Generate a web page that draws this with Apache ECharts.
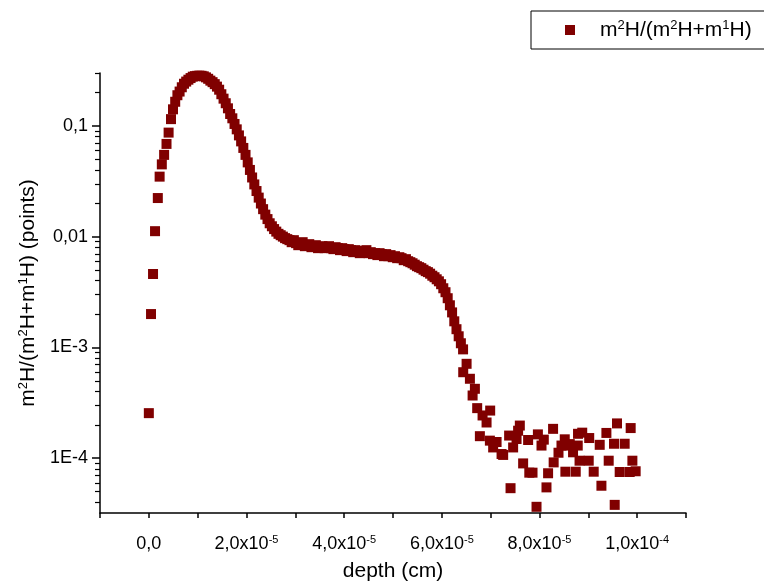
<!DOCTYPE html>
<html><head><meta charset="utf-8">
<script src="https://cdn.jsdelivr.net/npm/echarts@6/dist/echarts.min.js"></script>
<style>html,body{margin:0;padding:0;background:#fff}#c{width:764px;height:583px}</style>
</head><body><div id="c"></div>
<script>
// depth (cm) and ratio m2H/(m2H+m1H)
const depthPeak = [0, 0.045e-5, 0.086e-5, 0.127e-5, 0.184e-5, 0.221e-5, 0.266e-5, 0.313e-5, 0.362e-5, 0.405e-5, 0.454e-5, 0.495e-5,
  0.54e-5, 0.585e-5, 0.63e-5, 0.675e-5, 0.72e-5, 0.765e-5, 0.81e-5, 0.855e-5, 0.90e-5, 0.945e-5,
  0.99e-5, 1.035e-5, 1.08e-5, 1.125e-5, 1.17e-5, 1.215e-5, 1.26e-5, 1.305e-5, 1.35e-5, 1.395e-5,
  1.44e-5, 1.485e-5, 1.53e-5, 1.575e-5, 1.62e-5, 1.665e-5, 1.71e-5, 1.755e-5, 1.80e-5, 1.845e-5,
  1.89e-5, 1.935e-5, 1.98e-5, 2.025e-5, 2.07e-5, 2.115e-5, 2.16e-5, 2.205e-5, 2.25e-5, 2.295e-5,
  2.34e-5, 2.385e-5, 2.43e-5, 2.475e-5, 2.52e-5, 2.565e-5, 2.61e-5, 2.655e-5, 2.70e-5, 2.745e-5,
  2.79e-5, 2.835e-5];
const ratioPeak = [2.55e-4, 2.0e-3, 4.6e-3, 0.0112, 0.0223, 0.0348, 0.0449, 0.0547, 0.0687, 0.0869, 0.115, 0.141,
  0.165, 0.189, 0.204, 0.223, 0.240, 0.251, 0.261, 0.270, 0.278, 0.281,
  0.283, 0.284, 0.283, 0.280, 0.274, 0.266, 0.256, 0.248, 0.238, 0.226,
  0.212, 0.193, 0.176, 0.160, 0.144, 0.128, 0.117, 0.104, 0.0930, 0.0820,
  0.0724, 0.0632, 0.0547, 0.0468, 0.0400, 0.0342, 0.0296, 0.0258, 0.0225, 0.0199,
  0.0177, 0.0158, 0.0144, 0.0132, 0.0124, 0.0117, 0.0111, 0.0106, 0.0103, 0.0100,
  0.00969, 0.00949];
const depthPlateau = [2.88e-5, 2.925e-5, 2.97e-5, 3.015e-5, 3.06e-5, 3.105e-5, 3.15e-5, 3.195e-5, 3.24e-5, 3.285e-5,
  3.33e-5, 3.375e-5, 3.42e-5, 3.465e-5, 3.51e-5, 3.555e-5, 3.60e-5, 3.645e-5, 3.69e-5, 3.735e-5,
  3.78e-5, 3.825e-5, 3.87e-5, 3.915e-5, 3.96e-5, 4.005e-5, 4.05e-5, 4.095e-5, 4.14e-5, 4.185e-5,
  4.23e-5, 4.275e-5, 4.32e-5, 4.365e-5, 4.41e-5, 4.455e-5, 4.50e-5, 4.545e-5, 4.59e-5, 4.635e-5,
  4.68e-5, 4.725e-5, 4.77e-5, 4.815e-5, 4.86e-5, 4.905e-5, 4.95e-5, 4.995e-5, 5.04e-5, 5.085e-5,
  5.13e-5, 5.175e-5, 5.22e-5, 5.265e-5, 5.31e-5, 5.355e-5, 5.40e-5, 5.445e-5, 5.49e-5, 5.535e-5,
  5.58e-5, 5.625e-5, 5.67e-5, 5.715e-5, 5.76e-5, 5.805e-5, 5.85e-5, 5.895e-5, 5.94e-5, 5.985e-5,
  6.03e-5, 6.075e-5, 6.12e-5, 6.165e-5, 6.21e-5, 6.255e-5, 6.30e-5, 6.345e-5, 6.39e-5, 6.435e-5];
const ratioPlateau = [0.00929, 0.00891, 0.00929, 0.00873, 0.00837, 0.00855, 0.00891, 0.00820, 0.00837, 0.00855,
  0.00803, 0.00820, 0.00837, 0.00787, 0.00803, 0.00820, 0.00787, 0.00803, 0.00820, 0.00787,
  0.00771, 0.00803, 0.00787, 0.00755, 0.00787, 0.00771, 0.00740, 0.00771, 0.00755, 0.00724,
  0.00755, 0.00740, 0.00709, 0.00740, 0.00724, 0.00755, 0.00709, 0.00724, 0.00695, 0.00709,
  0.00681, 0.00709, 0.00695, 0.00666, 0.00695, 0.00666, 0.00681, 0.00652, 0.00666, 0.00639,
  0.00652, 0.00639, 0.00613, 0.00626, 0.00600, 0.00588, 0.00575, 0.00558, 0.00541, 0.00530,
  0.00519, 0.00503, 0.00488, 0.00478, 0.00463, 0.00444, 0.00430, 0.00412, 0.00395, 0.00372,
  0.00342, 0.00315, 0.00278, 0.00240, 0.00207, 0.00172, 0.00146, 0.00126, 0.00109, 0.00096];
const depthTail = [6.438e-5, 6.507e-5, 6.575e-5, 6.630e-5, 6.677e-5, 6.724e-5, 6.779e-5, 6.834e-5, 6.916e-5, 6.984e-5,
  6.990e-5, 7.051e-5, 7.121e-5, 7.223e-5, 7.256e-5, 7.378e-5, 7.407e-5, 7.460e-5, 7.530e-5, 7.562e-5,
  7.597e-5, 7.665e-5, 7.767e-5, 7.791e-5, 7.857e-5, 7.939e-5, 7.967e-5, 8.041e-5, 8.088e-5, 8.143e-5,
  8.176e-5, 8.278e-5, 8.290e-5, 8.389e-5, 8.450e-5, 8.517e-5, 8.530e-5, 8.585e-5, 8.620e-5, 8.687e-5,
  8.742e-5, 8.783e-5, 8.789e-5, 8.820e-5, 8.875e-5, 9.008e-5, 9.018e-5, 9.110e-5, 9.233e-5, 9.268e-5,
  9.370e-5, 9.417e-5, 9.526e-5, 9.540e-5, 9.587e-5, 9.642e-5, 9.744e-5, 9.847e-5, 9.867e-5, 9.902e-5,
  9.969e-5];
const ratioTail = [5.97e-4, 7.11e-4, 5.21e-4, 3.68e-4, 4.23e-4, 2.83e-4, 1.58e-4, 2.43e-4, 2.10e-4, 1.44e-4,
  2.69e-4, 1.25e-4, 1.40e-4, 1.09e-4, 1.07e-4, 1.60e-4, 5.36e-5, 1.25e-4, 1.49e-4, 1.77e-4,
  1.97e-4, 8.97e-5, 1.46e-4, 7.40e-5, 7.40e-5, 3.64e-5, 1.64e-4, 1.30e-4, 1.47e-4, 5.45e-5,
  7.31e-5, 1.84e-4, 9.16e-5, 1.12e-4, 1.30e-4, 1.48e-4, 7.55e-5, 1.30e-4, 1.34e-4, 1.13e-4,
  7.55e-5, 1.30e-4, 1.66e-4, 9.49e-5, 1.70e-4, 9.49e-5, 1.52e-4, 7.55e-5, 1.32e-4, 5.64e-5,
  1.69e-4, 9.49e-5, 1.35e-4, 3.79e-5, 2.06e-4, 7.50e-5, 1.35e-4, 7.50e-5, 1.87e-4, 9.49e-5,
  7.62e-5];

const xTicks = [0, 2e-5, 4e-5, 6e-5, 8e-5, 1e-4];
const xTickMant = ['0,0', '2,0x10', '4,0x10', '6,0x10', '8,0x10', '1,0x10'];
const xTickExp = ['', '-5', '-5', '-5', '-5', '-4'];
const yTicks = [1e-4, 1e-3, 0.01, 0.1];
const yTickLabels = ['1E-4', '1E-3', '0,01', '0,1'];
const seriesName = 'm2H/(m2H+m1H)';

const FONT = '"Liberation Sans", Arial, sans-serif';
const yMin = 3.2e-5, yMax = 0.3;
const yMinor = [];
for (let e = -5; e <= -1; e++) {
  for (let m = 2; m <= 9; m++) {
    const v = Number((m * Math.pow(10, e)).toPrecision(3));
    if (v >= yMin && v <= yMax + 1e-12) yMinor.push(v);
  }
}

const data = [];
[[depthPeak, ratioPeak], [depthPlateau, ratioPlateau], [depthTail, ratioTail]].forEach(([d, r]) => {
  d.forEach((x, i) => data.push([x, r[i]]));
});

const chart = echarts.init(document.getElementById('c'), null, { renderer: 'canvas' });
chart.setOption({
  animation: false,
  backgroundColor: '#fff',
  textStyle: { fontFamily: FONT, color: '#000' },
  grid: { left: 100, right: 78, top: 73, bottom: 70, containLabel: false, outerBoundsMode: 'none' },
  legend: {
    left: 531, top: 11,
    padding: [8, 40, 8, 34],
    borderColor: '#000', borderWidth: 1,
    itemWidth: 10, itemHeight: 10, icon: 'rect',
    data: [seriesName],
    formatter: () => '{g| }{n|m}{s|2}{n|H/(m}{s|2}{n|H+m}{s|1}{n|H)}',
    textStyle: {
      fontFamily: FONT, color: '#000', fontSize: 21,
      rich: {
        g: { width: 20, fontSize: 21, lineHeight: 22 },
        n: { fontSize: 21, fontFamily: FONT, color: '#000', lineHeight: 22 },
        s: { fontSize: 13, fontFamily: FONT, color: '#000', lineHeight: 22, padding: [0, 0, 9, 0] }
      }
    }
  },
  xAxis: {
    type: 'value', min: -1e-5, max: 1.1e-4, interval: 1e-5,
    name: 'depth (cm)', nameLocation: 'middle', nameGap: 48,
    nameTextStyle: { fontFamily: FONT, fontSize: 21, color: '#000' },
    axisLine: { show: true, onZero: false, lineStyle: { color: '#000', width: 1.5 } },
    axisTick: { show: true, inside: false, length: 5, lineStyle: { color: '#000', width: 1.5 } },
    splitLine: { show: false },
    axisLabel: {
      interval: 0, margin: 21, color: '#000', fontFamily: FONT, fontSize: 18,
      formatter: (v) => {
        const k = Math.round(v / 1e-5);
        if (k < 0 || k % 2 !== 0) return '';
        const i = xTicks.findIndex(t => Math.abs(t - v) < 1e-9);
        if (i < 0) return '';
        return xTickExp[i] ? '{n|' + xTickMant[i] + '}{s|' + xTickExp[i] + '}' : '{n|' + xTickMant[i] + '}';
      },
      rich: {
        n: { fontSize: 18, fontFamily: FONT, color: '#000', lineHeight: 20 },
        s: { fontSize: 11, fontFamily: FONT, color: '#000', lineHeight: 20, padding: [0, 0, 9, 0] }
      }
    }
  },
  yAxis: [{
    type: 'log', logBase: 10, min: yMin, max: yMax,
    name: '{n|m}{s|2}{n|H/(m}{s|2}{n|H+m}{s|1}{n|H) (points)}',
    nameLocation: 'middle', nameGap: 51, nameRotate: 90,
    nameTextStyle: {
      fontFamily: FONT, fontSize: 21, color: '#000',
      rich: {
        n: { fontSize: 21, fontFamily: FONT, color: '#000', lineHeight: 22 },
        s: { fontSize: 13, fontFamily: FONT, color: '#000', lineHeight: 22, padding: [0, 0, 9, 0] }
      }
    },
    axisLine: { show: true, onZero: false, lineStyle: { color: '#000', width: 1.5 } },
    axisTick: { show: true, length: 8, customValues: yTicks, lineStyle: { color: '#000', width: 1.5 } },
    splitLine: { show: false },
    minorTick: { show: false },
    axisLabel: {
      customValues: yTicks, margin: 12, color: '#000', fontFamily: FONT, fontSize: 18,
      formatter: (v) => {
        const i = yTicks.findIndex(t => Math.abs(t - v) / t < 1e-6);
        return i < 0 ? '' : yTickLabels[i];
      }
    }
  }, {
    type: 'log', logBase: 10, min: yMin, max: yMax, position: 'left', offset: 0,
    axisLine: { show: false, onZero: false },
    axisTick: { show: true, length: 5, customValues: yMinor, lineStyle: { color: '#000', width: 1.2 } },
    axisLabel: { show: false },
    splitLine: { show: false }
  }],
  series: [{
    name: seriesName, type: 'scatter', yAxisIndex: 0,
    symbol: 'rect', symbolSize: 10,
    itemStyle: { color: '#800000', opacity: 1 },
    data: data
  }]
});
</script>
</body></html>
